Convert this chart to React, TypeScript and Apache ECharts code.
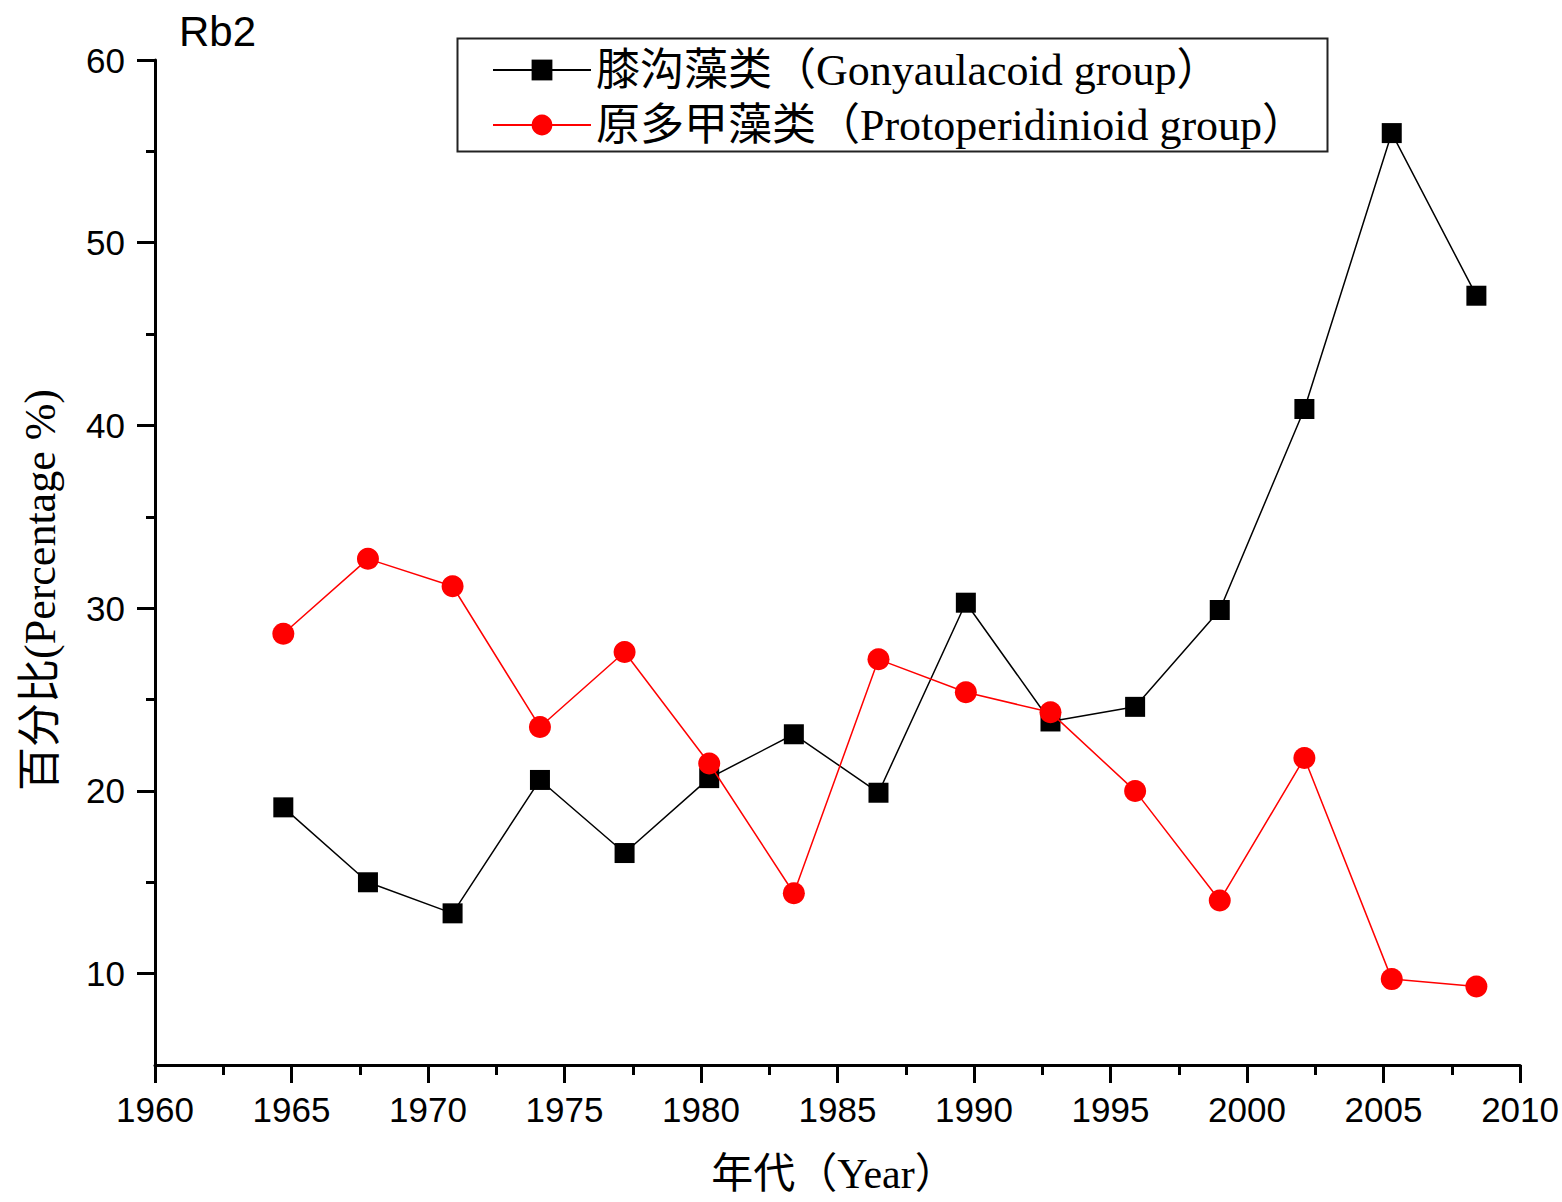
import React, { useEffect, useRef } from "react";
import * as echarts from "echarts";

const years = [1964.7, 1967.8, 1970.9, 1974.1, 1977.2, 1980.3, 1983.4, 1986.5, 1989.7, 1992.8, 1995.9, 1999.0, 2002.1, 2005.3, 2008.4];
const gonyaulacoid = [19.1, 15.0, 13.3, 20.6, 16.6, 20.7, 23.1, 19.9, 30.3, 23.8, 24.6, 29.9, 40.9, 56.0, 47.1];
const protoperidinioid = [28.6, 32.7, 31.2, 23.5, 27.6, 21.5, 14.4, 27.2, 25.4, 24.3, 20.0, 14.0, 21.8, 9.7, 9.3];
const yMajorTicks = [10, 20, 30, 40, 50, 60];
const yMinorTicks = [15, 25, 35, 45, 55];
const seriesNames = ["膝沟藻类（Gonyaulacoid group）", "原多甲藻类（Protoperidinioid group）"];
const xTitle = "年代（Year）";
const yTitle = "百分比(Percentage %)";

const SANS = "'Liberation Sans', Arial, sans-serif";
const SERIF = "'Liberation Serif', 'Times New Roman', 'Noto Sans CJK SC', serif";

export default function App() {
  const ref = useRef<HTMLDivElement>(null);
  useEffect(() => {
    if (!ref.current) return;
    const chart = echarts.init(ref.current, null, { renderer: "svg" });
    const axisLine = { show: true, lineStyle: { color: "#000", width: 3 } };
    chart.setOption({
      animation: false,
      backgroundColor: "#fff",
      title: {
        text: "Rb2",
        left: 179,
        top: 10,
        padding: 0,
        textStyle: { fontFamily: SANS, fontSize: 42, fontWeight: "normal", color: "#000" },
      },
      graphic: [
        {
          type: "rect",
          left: 455,
          top: 36,
          shape: { width: 870, height: 113 },
          style: { fill: "none", stroke: "#222", lineWidth: 2 },
          z: 10,
        },
        {
          type: "text",
          x: 834,
          y: 1174,
          style: {
            text: xTitle,
            fontFamily: SERIF,
            fontSize: 42,
            fill: "#000",
            align: "center",
            verticalAlign: "middle",
          },
        },
        {
          type: "text",
          x: 40,
          y: 590,
          rotation: Math.PI / 2,
          style: {
            text: yTitle,
            fontFamily: SERIF,
            fontSize: 44,
            fill: "#000",
            align: "center",
            verticalAlign: "middle",
          },
        },
      ],
      legend: {
        orient: "vertical",
        left: 492,
        top: 48,
        padding: 0,
        itemWidth: 98,
        itemHeight: 26,
        itemGap: 11,
        itemTextGap: 16,
        textStyle: { fontFamily: SERIF, fontSize: 44, color: "#000", lineHeight: 44 },
        data: seriesNames,
      },
      grid: { left: 155, right: 40, top: 60, bottom: 137, containLabel: false },
      xAxis: {
        type: "value",
        min: 1960,
        max: 2010,
        interval: 5,
        axisLine,
        axisTick: { show: true, inside: false, length: 18, lineStyle: { color: "#000", width: 3 } },
        minorTick: { show: true, splitNumber: 2, length: 10, lineStyle: { color: "#000", width: 3 } },
        axisLabel: {
          fontFamily: SANS,
          fontSize: 35,
          color: "#000",
          margin: 27,
          formatter: (v: number) => String(v),
        },
        splitLine: { show: false },
      },
      yAxis: [
        {
          type: "value",
          min: 5,
          max: 60,
          axisLine,
          axisTick: { show: true, inside: false, length: 18, customValues: yMajorTicks, lineStyle: { color: "#000", width: 3 } },
          axisLabel: { fontFamily: SANS, fontSize: 35, color: "#000", margin: 30, customValues: yMajorTicks },
          splitLine: { show: false },
        },
        {
          type: "value",
          min: 5,
          max: 60,
          position: "left",
          axisLine: { show: false },
          axisTick: { show: true, inside: false, length: 9, customValues: yMinorTicks, lineStyle: { color: "#000", width: 3 } },
          axisLabel: { show: false },
          splitLine: { show: false },
        },
      ],
      series: [
        {
          name: seriesNames[0],
          type: "line",
          yAxisIndex: 0,
          data: years.map((y, i) => [y, gonyaulacoid[i]]),
          symbol: "rect",
          symbolSize: 20,
          lineStyle: { color: "#000", width: 1.5 },
          itemStyle: { color: "#000" },
          z: 3,
        },
        {
          name: seriesNames[1],
          type: "line",
          yAxisIndex: 0,
          data: years.map((y, i) => [y, protoperidinioid[i]]),
          symbol: "circle",
          symbolSize: 22,
          lineStyle: { color: "#ff0000", width: 1.5 },
          itemStyle: { color: "#ff0000" },
          z: 4,
        },
      ],
    });
    return () => chart.dispose();
  }, []);
  return <div ref={ref} style={{ width: 1562, height: 1202, position: "absolute", left: 0, top: 0 }} />;
}
